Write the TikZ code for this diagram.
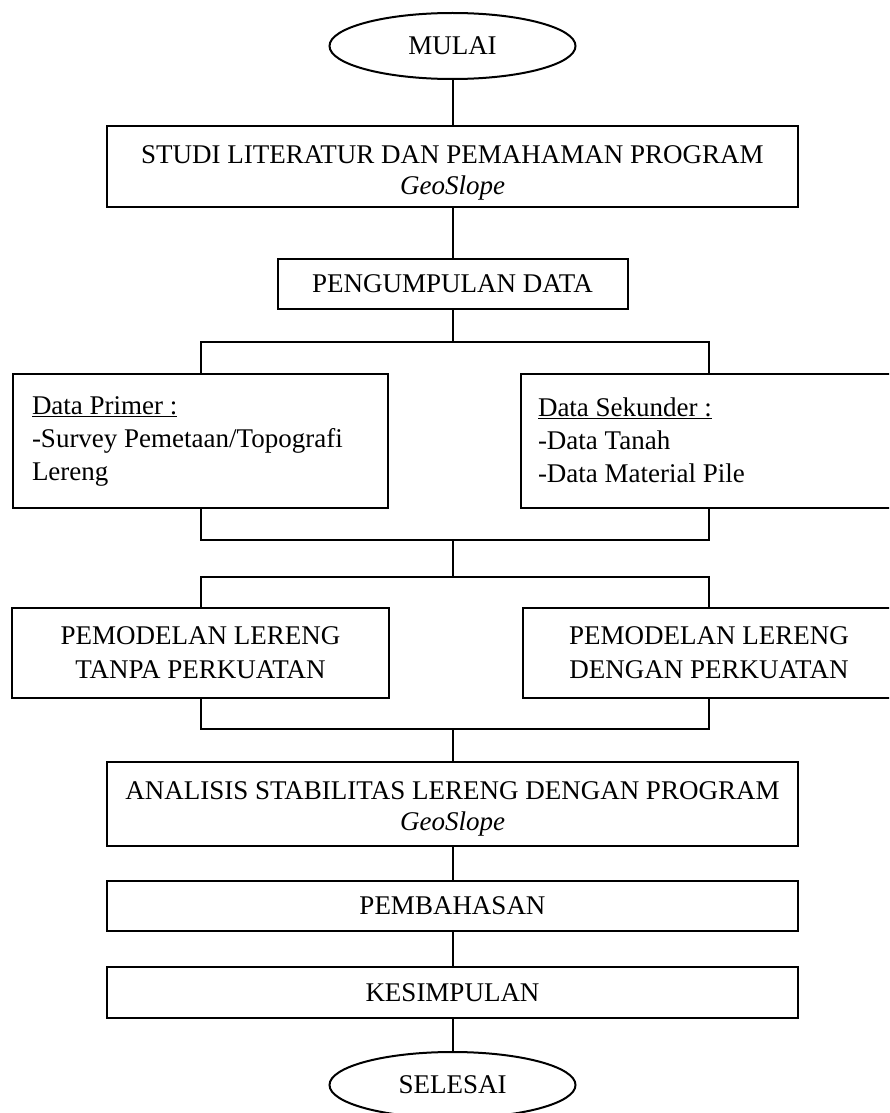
\documentclass[tikz,border=0pt]{standalone}
\usepackage{fontspec}
\setmainfont{Liberation Serif}
\usetikzlibrary{shapes.geometric}
\begin{document}
\begin{tikzpicture}[x=1pt,y=-1pt,
  line width=2pt,
  every node/.style={font=\fontsize{27}{31}\selectfont},
  term/.style={draw,ellipse,minimum width=246pt,minimum height=66pt,inner sep=0pt},
  box/.style={draw,rectangle,align=center,inner sep=0pt},
  databox/.style={draw,rectangle,align=flush left,inner ysep=0pt,minimum height=134pt,
    font=\fontsize{27}{33}\selectfont},
]
\path[use as bounding box,clip] (0,0) rectangle (889,1113);
\node[term] (mulai) at (452.5,46) {MULAI};
\node[box,minimum width=691pt,minimum height=81pt] (studi) at (452.5,166.5)
  {\rule{0pt}{30pt}STUDI LITERATUR DAN PEMAHAMAN PROGRAM\\ \textit{GeoSlope}};
\node[box,minimum width=350pt,minimum height=50pt] (kumpul) at (452.5,284) {PENGUMPULAN DATA};
\node[databox,inner xsep=19pt,text width=337pt] (primer) at (200.5,441)
  {\underline{Data Primer :}\\ -Survey Pemetaan/Topografi\\ Lereng};
\node[databox,inner xsep=17pt,text width=342pt] (sekunder) at (709,440.5)
  {\underline{Data Sekunder :}\\ -Data Tanah\\ -Data Material Pile};
\node[box,minimum width=377pt,minimum height=90pt,font=\fontsize{27}{34}\selectfont] (tanpa) at (200.5,653)
  {PEMODELAN LERENG\\ TANPA PERKUATAN};
\node[box,minimum width=372pt,minimum height=90pt,font=\fontsize{27}{34}\selectfont] (dengan) at (709,653)
  {PEMODELAN LERENG\\ DENGAN PERKUATAN};
\node[box,minimum width=691pt,minimum height=84pt] (analisis) at (452.5,804)
  {\rule{0pt}{28pt}ANALISIS STABILITAS LERENG DENGAN PROGRAM\\ \textit{GeoSlope}};
\node[box,minimum width=691pt,minimum height=50pt] (bahas) at (452.5,906) {PEMBAHASAN};
\node[box,minimum width=691pt,minimum height=51pt] (simpul) at (452.5,992.5) {KESIMPULAN};
\node[term] (selesai) at (452.5,1085) {SELESAI};

\coordinate (j1) at (452.5,342);
\coordinate (j2) at (452.5,540);
\coordinate (j3) at (452.5,577);
\coordinate (j4) at (452.5,729);

\draw (mulai) -- (studi);
\draw (studi) -- (kumpul);
\draw (kumpul) -- (j1);
\draw (primer.north) -- (primer.north |- j1) -- (sekunder.north |- j1) -- (sekunder.north);
\draw (primer.south) -- (primer.south |- j2) -- (sekunder.south |- j2) -- (sekunder.south);
\draw (j2) -- (j3);
\draw (tanpa.north) -- (tanpa.north |- j3) -- (dengan.north |- j3) -- (dengan.north);
\draw (tanpa.south) -- (tanpa.south |- j4) -- (dengan.south |- j4) -- (dengan.south);
\draw (j4) -- (analisis);
\draw (analisis) -- (bahas);
\draw (bahas) -- (simpul);
\draw (simpul) -- (selesai);
\end{tikzpicture}
\end{document}
